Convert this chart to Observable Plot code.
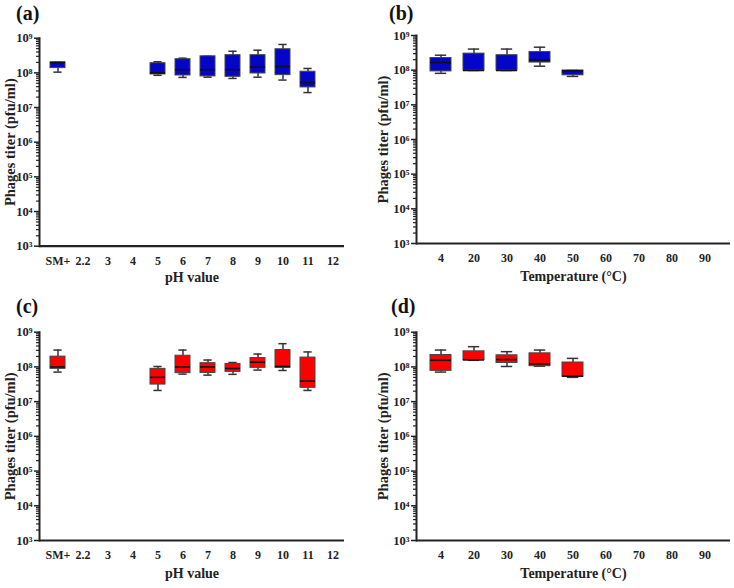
<!DOCTYPE html>
<html>
<head>
<meta charset="utf-8">
<script src="https://cdn.jsdelivr.net/npm/d3@7"></script>
<script src="https://cdn.jsdelivr.net/npm/@observablehq/plot@0.6"></script>
<style>
  html, body { margin: 0; padding: 0; background: #fff; }
  #wrap { position: relative; width: 734px; height: 588px; overflow: hidden; }
  .panel { position: absolute; }
  .tag { position: absolute; font-family: "Liberation Serif", "DejaVu Serif", serif; font-weight: bold; font-size: 20px; color: #111; }
</style>
</head>
<body>
<div id="wrap"></div>
<script>
// ---- tick labels / categories ----
const phLabels = ["SM+", "2.2", "3", "4", "5", "6", "7", "8", "9", "10", "11", "12"];
const tempLabels = ["4", "20", "30", "40", "50", "60", "70", "80", "90"];
const yTitle = "Phages titer (pfu/ml)";

// ---- (a) pH, blue ----
const aCats = ["SM+", "5", "6", "7", "8", "9", "10", "11"];
const aMin = [1.05e8, 8.5e7, 7.4e7, 7.5e7, 6.9e7, 7.5e7, 6.2e7, 2.7e7];
const aQ1  = [1.37e8, 9.0e7, 8.4e7, 7.9e7, 7.7e7, 9.6e7, 8.6e7, 3.8e7];
const aMed = [2.0e8, 1.0e8, 1.23e8, 1.23e8, 1.23e8, 1.46e8, 1.53e8, 5.2e7];
const aQ3  = [2.0e8, 1.9e8, 2.48e8, 3.0e8, 3.24e8, 3.24e8, 4.8e8, 1.08e8];
const aMax = [2.0e8, 2.09e8, 2.65e8, 3.0e8, 4.2e8, 4.5e8, 6.6e8, 1.34e8];

// ---- (b) temperature, blue ----
const bCats = ["4", "20", "30", "40", "50"];
const bMin = [8.1e7, 9.8e7, 9.8e7, 1.3e8, 6.6e7];
const bQ1  = [9.2e7, 9.8e7, 9.8e7, 1.66e8, 7.1e7];
const bMed = [1.66e8, 9.8e7, 9.8e7, 1.97e8, 9.5e7];
const bQ3  = [2.24e8, 3.0e8, 2.7e8, 3.33e8, 9.8e7];
const bMax = [2.7e8, 4.06e8, 4.06e8, 4.6e8, 9.8e7];

// ---- (c) pH, red ----
const cCats = ["SM+", "5", "6", "7", "8", "9", "10", "11"];
const cMin = [7.1e7, 2.1e7, 6.2e7, 5.8e7, 6.1e7, 8.1e7, 7.9e7, 2.1e7];
const cQ1  = [8.8e7, 3.1e7, 6.6e7, 6.7e7, 7.2e7, 9.4e7, 9.4e7, 2.5e7];
const cMed = [1.0e8, 5.0e7, 1.0e8, 1.0e8, 9.0e7, 1.36e8, 1.03e8, 3.9e7];
const cQ3  = [1.98e8, 8.8e7, 2.1e8, 1.28e8, 1.22e8, 1.8e8, 3.06e8, 1.86e8];
const cMax = [3.06e8, 1.03e8, 3.06e8, 1.58e8, 1.34e8, 2.35e8, 4.67e8, 2.7e8];

// ---- (d) temperature, red ----
const dCats = ["4", "20", "30", "40", "50"];
const dMin = [7.1e7, 1.55e8, 1.03e8, 1.05e8, 5.0e7];
const dQ1  = [7.7e7, 1.55e8, 1.3e8, 1.05e8, 5.2e7];
const dMed = [1.55e8, 1.6e8, 1.63e8, 1.22e8, 5.4e7];
const dQ3  = [2.2e8, 2.81e8, 2.16e8, 2.46e8, 1.34e8];
const dMax = [3.06e8, 3.83e8, 2.75e8, 3.06e8, 1.76e8];

const blue = "#0505c8";
const red = "#ff0000";
const fontFam = '"Liberation Serif", "DejaVu Serif", serif';

const majorTicks = [1e3, 1e4, 1e5, 1e6, 1e7, 1e8, 1e9];
const minorTicks = [];
for (let k = 3; k < 9; k++) for (let m = 2; m <= 9; m++) minorTicks.push(m * Math.pow(10, k));
const sup = {"0":"⁰","1":"¹","2":"²","3":"³","4":"⁴","5":"⁵","6":"⁶","7":"⁷","8":"⁸","9":"⁹"};
const fmtPow = d => "10" + String(Math.round(Math.log10(d))).split("").map(c => sup[c]).join("");

function makePanel(o) {
  const data = o.cats.map((c, i) => ({cat: c, min: o.min[i], q1: o.q1[i], med: o.med[i], q3: o.q3[i], max: o.max[i]}));
  const bw = o.step * (1 - o.pad);
  const capInset = bw * 0.22;
  const chart = Plot.plot({
    width: 367,
    height: o.height,
    marginLeft: o.mL, marginRight: o.mR, marginTop: o.mT, marginBottom: o.mB,
    style: {fontFamily: fontFam, fontWeight: "bold", fontSize: "12px", color: "#222", background: "transparent"},
    x: {type: "band", domain: o.labels, range: o.xRange, paddingInner: o.pad, paddingOuter: o.pad / 2},
    y: {type: "log", domain: [1e3, 1e9]},
    marks: [
      Plot.axisY({ticks: minorTicks, tickSize: 3, tickFormat: () => "", label: null, stroke: "#222", strokeWidth: 1.2}),
      Plot.axisY({ticks: majorTicks, tickSize: 5, tickPadding: 2, tickFormat: fmtPow, label: null, stroke: "#222", strokeWidth: 1.5, fill: "#222", fontSize: 12.5}),
      Plot.axisX({tickSize: 0, tickPadding: 10, label: null, fill: "#222"}),
      Plot.frame({anchor: "left", stroke: "#222", strokeWidth: 2}),
      Plot.ruleY([1e3], {stroke: "#222", strokeWidth: 2.2}),
      Plot.ruleX(data, {x: "cat", y1: "min", y2: "q1", stroke: "#333", strokeWidth: 1.5}),
      Plot.ruleX(data, {x: "cat", y1: "q3", y2: "max", stroke: "#333", strokeWidth: 1.5}),
      Plot.tickY(data, {x: "cat", y: "min", stroke: "#333", strokeWidth: 1.5, insetLeft: capInset, insetRight: capInset}),
      Plot.tickY(data, {x: "cat", y: "max", stroke: "#333", strokeWidth: 1.5, insetLeft: capInset, insetRight: capInset}),
      Plot.barY(data, {x: "cat", y1: "q1", y2: "q3", fill: o.color, stroke: "#444", strokeWidth: 1}),
      Plot.tickY(data, {x: "cat", y: "med", stroke: "#111", strokeWidth: 1.6}),
      Plot.text([yTitle], {frameAnchor: "left", dx: -o.yTitleOffset, rotate: -90, textAnchor: "middle", fontSize: 14.5, fontWeight: "bold", fill: "#222"}),
      Plot.text([o.xTitle], {frameAnchor: "bottom", dy: o.xTitleOffset, textAnchor: "middle", fontSize: 14, fontWeight: "bold", fill: "#222"})
    ]
  });
  const div = document.createElement("div");
  div.className = "panel";
  div.style.left = o.left + "px";
  div.style.top = o.top + "px";
  div.appendChild(chart);
  document.getElementById("wrap").appendChild(div);
  const tag = document.createElement("div");
  tag.className = "tag";
  tag.textContent = o.tag;
  tag.style.left = o.tagX + "px";
  tag.style.top = o.tagY + "px";
  document.getElementById("wrap").appendChild(tag);
}

const phGeom = {mL: 39, mR: 23, xRange: [42.3, 348.3], step: 25.5, pad: 0.4, yTitleOffset: 29, labels: phLabels, xTitle: "pH value"};
const tGeom = {mL: 49, mR: 4, xRange: [54.2, 356.6], step: 33.6, pad: 0.35, yTitleOffset: 33, labels: tempLabels, xTitle: "Temperature (°C)"};

makePanel({...phGeom, cats: aCats, min: aMin, q1: aQ1, med: aMed, q3: aQ3, max: aMax, color: blue,
  left: 0, top: 0, height: 292, mT: 37.7, mB: 46.3, xTitleOffset: 36, tag: "(a)", tagX: 16, tagY: 2});
makePanel({...tGeom, cats: bCats, min: bMin, q1: bQ1, med: bMed, q3: bQ3, max: bMax, color: blue,
  left: 367, top: 0, height: 292, mT: 35, mB: 49, xTitleOffset: 37, tag: "(b)", tagX: 389, tagY: 2});
makePanel({...phGeom, cats: cCats, min: cMin, q1: cQ1, med: cMed, q3: cQ3, max: cMax, color: red,
  left: 0, top: 294, height: 294, mT: 37.7, mB: 48, xTitleOffset: 37, tag: "(c)", tagX: 16, tagY: 295});
makePanel({...tGeom, cats: dCats, min: dMin, q1: dQ1, med: dMed, q3: dQ3, max: dMax, color: red,
  left: 367, top: 294, height: 294, mT: 37.7, mB: 48, xTitleOffset: 37, tag: "(d)", tagX: 391, tagY: 295});
</script>
</body>
</html>
